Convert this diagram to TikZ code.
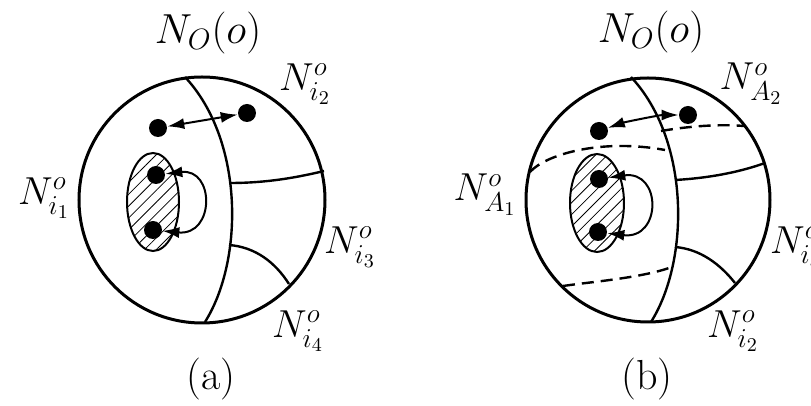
\RequirePackage{fix-cm}
\documentclass[tikz,border=0pt]{standalone}
\usepackage{amsmath}
\usetikzlibrary{positioning,arrows.meta,patterns.meta}

\begin{document}
\begin{tikzpicture}[x=0.5pt,y=-0.5pt,
  font=\fontsize{21}{24}\selectfont,
  lbl/.style={font=\fontsize{19.5}{22}\selectfont},
  dot/.style={circle,fill=black,inner sep=0pt,minimum size=9pt},
  rim/.style={line width=1.5pt},
  cut/.style={line width=1.2pt},
  hidden/.style={line width=1.2pt,dash pattern=on 6pt off 3.5pt},
  blob/.style={line width=1pt,pattern={Lines[angle=45,distance=4.2pt,line width=0.4pt]}},
  link/.style={line width=1pt,{Latex[length=8.5pt,width=5.5pt]}-{Latex[length=8.5pt,width=5.5pt]}}]
  \useasboundingbox (0,0) rectangle (811,406);
  \clip (0,0) rectangle (811,406);

  % (a): ball with four regions
  \draw[rim] (202,200) circle [radius=123];
  \draw[cut] (185,77) .. controls (244,140) and (244,260) .. (205,322);
  \draw[cut] (230,183) .. controls (265,183) and (295,178) .. (324,171);
  \draw[cut] (229,245) .. controls (255,247) and (275,262) .. (289,284);
  \draw[blob] (153,202) ellipse [x radius=26, y radius=49];

  \node[dot] (a1) at (158,128) {};
  \node[dot] (a2) at (247,113) {};
  \node[dot] (a3) at (156,175) {};
  \node[dot] (a4) at (153,230) {};
  \draw[link] (a1) -- (a2);
  \draw[link] (a3) .. controls (215,168) and (215,236) .. (a4);

  \node (noa) at (208,33) {$N_O(o)$};
  \node[lbl] (ia2) at (305,84) {$N^o_{i_2}$};
  \node[lbl] (ia1) at (44,198) {$N^o_{i_1}$};
  \node[lbl] (ia3) at (350,247) {$N^o_{i_3}$};
  \node[lbl] (ia4) at (298,331) {$N^o_{i_4}$};
  \node (capa) at (211,379) {(a)};

  % (b): same ball, cut by the dashed sets
  \draw[rim] (648,200) circle [radius=122];
  \draw[cut] (631,77) .. controls (690,140) and (690,260) .. (651,322);
  \draw[cut] (675,180) .. controls (710,178) and (740,172) .. (765,163);
  \draw[cut] (675,247) .. controls (700,249) and (720,264) .. (735,283);
  \draw[hidden] (530,172) .. controls (545,155) and (600,138) .. (665,150);
  \draw[hidden] (661,131) .. controls (690,126) and (720,124) .. (744,126);
  \draw[hidden] (563,286) .. controls (590,282) and (640,278) .. (669,268);
  \draw[blob] (597,203) ellipse [x radius=27, y radius=49];

  \node[dot] (b1) at (599,131) {};
  \node[dot] (b2) at (688,115) {};
  \node[dot] (b3) at (599,179) {};
  \node[dot] (b4) at (598,232) {};
  \draw[link] (b1) .. controls (625,122) and (660,115) .. (b2);
  \draw[link] (b3) .. controls (662,170) and (662,240) .. (b4);

  \node (nob) at (651,32) {$N_O(o)$};
  \node[lbl] (ib2) at (751,84) {$N^o_{A_2}$};
  \node[lbl] (ib1) at (485,195) {$N^o_{A_1}$};
  \node[lbl] (ib3) at (796,247) {$N^o_{i_3}$};
  \node[lbl] (ib4) at (733,331) {$N^o_{i_2}$};
  \node (capb) at (647,379) {(b)};
\end{tikzpicture}
\end{document}
